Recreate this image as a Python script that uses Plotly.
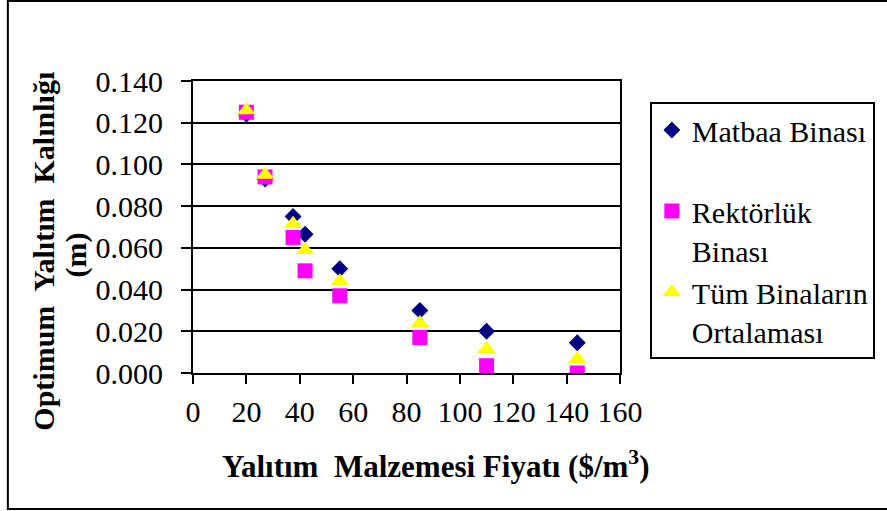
import plotly.graph_objects as go

# Insulation material price ($/m3)
fiyat = [20, 27, 37.5, 42, 55, 85, 110, 144]

# Optimum insulation thickness (m) per building
matbaa = [0.124, 0.093, 0.075, 0.0665, 0.050, 0.030, 0.020, 0.0145]
rektorluk = [0.125, 0.094, 0.065, 0.049, 0.037, 0.017, 0.0035, 0.000]
ortalama = [0.126, 0.095, 0.0715, 0.059, 0.044, 0.024, 0.0115, 0.0067]

series_names = ["Matbaa Binası<br> ", "Rektörlük<br>Binası", "Tüm Binaların<br>Ortalaması"]

x_ticks = [0, 20, 40, 60, 80, 100, 120, 140, 160]
y_ticks = [0.000, 0.020, 0.040, 0.060, 0.080, 0.100, 0.120, 0.140]

W, H = 887, 511
ML, MR, MT, MB = 193, 265, 81, 138
PW, PH = W - ML - MR, H - MT - MB


def px(xp):
    return (xp - ML) / PW


def py(yp):
    return (H - MB - yp) / PH


FONT = "Liberation Serif"

fig = go.Figure()
fig.add_trace(go.Scatter(
    x=fiyat, y=matbaa, mode="markers", name=series_names[0],
    marker=dict(symbol="diamond", size=13, color="#000080",
                line=dict(width=0)),
))
fig.add_trace(go.Scatter(
    x=fiyat, y=rektorluk, mode="markers", name=series_names[1],
    marker=dict(symbol="square", size=15, color="#FF00FF",
                line=dict(width=0)),
))
fig.add_trace(go.Scatter(
    x=fiyat, y=ortalama, mode="markers", name=series_names[2],
    marker=dict(symbol="triangle-up", size=16, color="#FFFF00",
                line=dict(width=0)),
))

axis_common = dict(
    showline=True, linecolor="black", linewidth=2, mirror=True,
    ticks="outside", tickcolor="black", tickwidth=2,
    tickfont=dict(family=FONT, size=30, color="black"),
    zeroline=False,
)

fig.update_xaxes(
    range=[0, 160], tickvals=x_ticks, ticklen=9, showgrid=False,
    ticklabelstandoff=2, **axis_common,
)
fig.update_yaxes(
    range=[0, 0.14], tickvals=y_ticks, tickformat=".3f", ticklen=10,
    showgrid=True, gridcolor="black", gridwidth=2,
    ticklabelstandoff=12, **axis_common,
)

fig.update_layout(
    width=W, height=H,
    margin=dict(l=ML, r=MR, t=MT, b=MB, pad=0),
    paper_bgcolor="white", plot_bgcolor="white",
    font=dict(family=FONT, size=30, color="black"),
    showlegend=True,
    legend=dict(
        x=px(652), y=py(102), xanchor="left", yanchor="top",
        bordercolor="black", borderwidth=2, bgcolor="white",
        valign="top", tracegroupgap=0,
        font=dict(family=FONT, size=30, color="black"),
    ),
    shapes=[dict(
        type="rect", xref="paper", yref="paper",
        x0=px(7), x1=px(900), y0=py(509), y1=py(1),
        line=dict(color="black", width=2), layer="below",
    )],
    annotations=[
        dict(text="<b>Yalıtım\u00a0 Malzemesi Fiyatı ($/m<sup>3</sup>)</b>",
             xref="paper", yref="paper", x=px(437), y=py(464),
             xanchor="center", yanchor="middle", showarrow=False,
             font=dict(family=FONT, size=31, color="black")),
        dict(text="<b>Optimum\u00a0 Yalıtım\u00a0 Kalınlığı</b>",
             xref="paper", yref="paper", x=px(42), y=py(251),
             xanchor="center", yanchor="middle", textangle=-90,
             showarrow=False,
             font=dict(family=FONT, size=30, color="black")),
        dict(text="<b>(m)</b>",
             xref="paper", yref="paper", x=px(75), y=py(255),
             xanchor="center", yanchor="middle", textangle=-90,
             showarrow=False,
             font=dict(family=FONT, size=30, color="black")),
    ],
)

fig.write_html("out.html")
